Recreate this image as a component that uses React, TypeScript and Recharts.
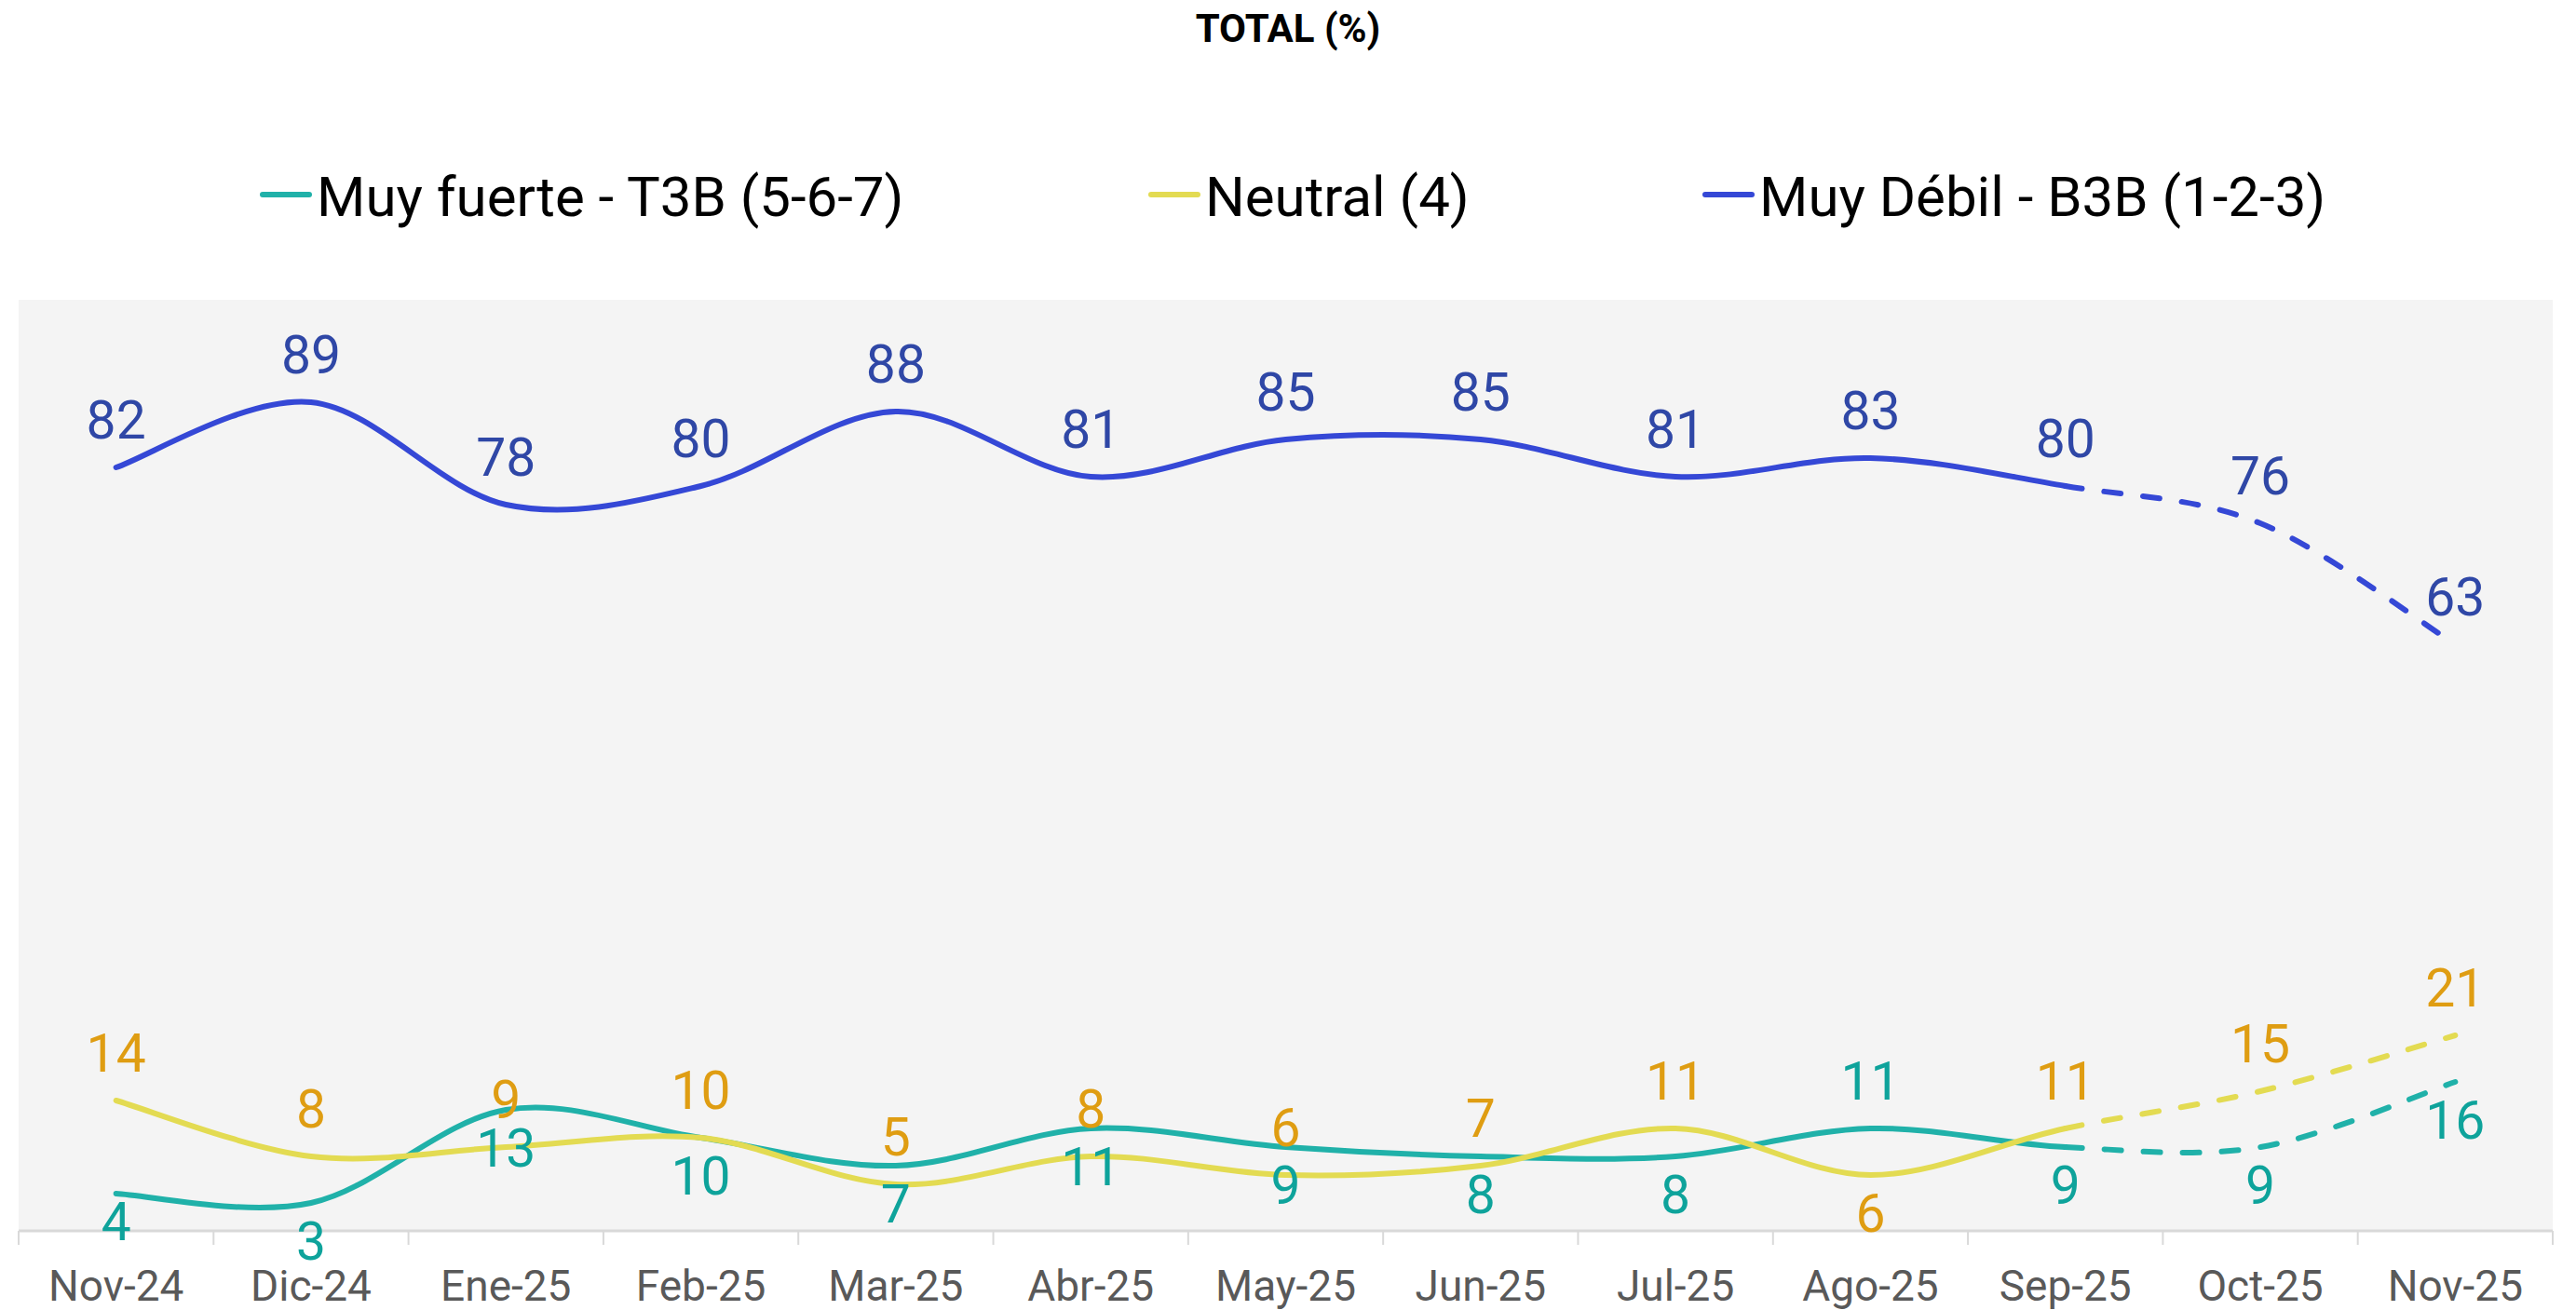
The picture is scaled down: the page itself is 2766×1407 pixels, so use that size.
import React from 'react';
import { LineChart, Line, XAxis, YAxis, CartesianGrid, LabelList } from 'recharts';

const meses = ['Nov-24', 'Dic-24', 'Ene-25', 'Feb-25', 'Mar-25', 'Abr-25', 'May-25', 'Jun-25', 'Jul-25', 'Ago-25', 'Sep-25', 'Oct-25', 'Nov-25'];
const muyFuerte = [4, 3, 13, 10, 7, 11, 9, 8, 8, 11, 9, 9, 16];
const neutral = [14, 8, 9, 10, 5, 8, 6, 7, 11, 6, 11, 15, 21];
const muyDebil = [82, 89, 78, 80, 88, 81, 85, 85, 81, 83, 80, 76, 63];

// donde va cada etiqueta respecto al punto
const ladoFuerte = ['low', 'below', 'below', 'below', 'below', 'below', 'below', 'below', 'below', 'above', 'below', 'below', 'below'];
const ladoNeutral = ['above', 'above', 'above', 'above', 'above', 'above', 'above', 'above', 'above', 'below', 'above', 'above', 'above'];
const ladoDebil = meses.map(() => 'above');

const ULTIMO_REAL = 10; // Sep-25, lo que sigue va punteado

const datos = meses.map((mes, i) => ({
  mes,
  fuerte: muyFuerte[i],
  neutral: neutral[i],
  debil: muyDebil[i],
}));

const W = 2766;
const H = 1407;
const M = { top: 322, left: 20, right: 25 };
const EJE_Y = 1322;
const MEDIA_BANDA = (W - M.left - M.right) / meses.length / 2;
const FUENTE = 'Roboto, "Noto Sans", sans-serif';

const C = {
  fuerte: '#20b1a9',
  fuerteTxt: '#0ea39b',
  neutral: '#e3db52',
  neutralTxt: '#df9d12',
  debil: '#3548d6',
  debilTxt: '#2f47a6',
};

// suavizado tipo Excel (Catmull-Rom), dibujando solo los tramos [desde, hasta]
function tramo(desde: number, hasta: number) {
  return (ctx: any) => {
    let pts: number[][] = [];
    return {
      areaStart() {},
      areaEnd() {},
      lineStart() {
        pts = [];
      },
      point(x: number, y: number) {
        pts.push([+x, +y]);
      },
      lineEnd() {
        const fin = Math.min(hasta, pts.length - 1);
        if (desde >= fin) return;
        ctx.moveTo(pts[desde][0], pts[desde][1]);
        for (let i = desde; i < fin; i++) {
          const p0 = pts[Math.max(i - 1, 0)];
          const p1 = pts[i];
          const p2 = pts[i + 1];
          const p3 = pts[Math.min(i + 2, pts.length - 1)];
          ctx.bezierCurveTo(
            p1[0] + (p2[0] - p0[0]) / 6,
            p1[1] + (p2[1] - p0[1]) / 6,
            p2[0] - (p3[0] - p1[0]) / 6,
            p2[1] - (p3[1] - p1[1]) / 6,
            p2[0],
            p2[1]
          );
        }
      },
    };
  };
}

const desplaz: Record<string, number> = { above: -31, below: 61, low: 50 };

const etiqueta = (color: string, lados: string[]) => (props: any) => {
  const { x, y, value, index } = props;
  return (
    <text x={x} y={y + desplaz[lados[index]]} textAnchor="middle" fontSize={57} fill={color} fontFamily={FUENTE}>
      {value}
    </text>
  );
};

const TickMes = (props: any) => {
  const { x, payload, index } = props;
  return (
    <g>
      <line x1={x - MEDIA_BANDA} x2={x - MEDIA_BANDA} y1={EJE_Y} y2={EJE_Y + 15} stroke="#d9d9d9" strokeWidth={2} />
      {index === meses.length - 1 && (
        <line x1={x + MEDIA_BANDA} x2={x + MEDIA_BANDA} y1={EJE_Y} y2={EJE_Y + 15} stroke="#d9d9d9" strokeWidth={2} />
      )}
      <text x={x} y={EJE_Y + 75} textAnchor="middle" fontSize={46} fill="#595959" fontFamily={FUENTE}>
        {payload.value}
      </text>
    </g>
  );
};

const leyenda = [
  { nombre: 'Muy fuerte - T3B (5-6-7)', color: C.fuerte, x: 279 },
  { nombre: 'Neutral (4)', color: C.neutral, x: 1233 },
  { nombre: 'Muy Débil - B3B (1-2-3)', color: C.debil, x: 1828 },
];

export default function App() {
  const series = [
    { k: 'fuerte', color: C.fuerte, txt: C.fuerteTxt, lados: ladoFuerte },
    { k: 'neutral', color: C.neutral, txt: C.neutralTxt, lados: ladoNeutral },
    { k: 'debil', color: C.debil, txt: C.debilTxt, lados: ladoDebil },
  ];

  return (
    <div style={{ position: 'absolute', left: 0, top: 0, width: W, height: H, background: '#fff' }}>
      <LineChart width={W} height={H} data={datos} margin={{ top: M.top, left: M.left, right: M.right, bottom: 0 }}>
        <CartesianGrid horizontal={false} vertical={false} fill="#f4f4f4" />
        <XAxis
          dataKey="mes"
          height={H - EJE_Y}
          interval={0}
          padding={{ left: MEDIA_BANDA, right: MEDIA_BANDA }}
          axisLine={{ stroke: '#d9d9d9', strokeWidth: 3 }}
          tickLine={false}
          tick={<TickMes />}
        />
        <YAxis hide domain={[0, 100]} />
        {series.map((s) => (
          <Line
            key={s.k + '-real'}
            dataKey={s.k}
            type={tramo(0, ULTIMO_REAL) as any}
            stroke={s.color}
            strokeWidth={6}
            strokeLinecap="round"
            dot={false}
            activeDot={false}
            isAnimationActive={false}
          >
            <LabelList dataKey={s.k} content={etiqueta(s.txt, s.lados)} />
          </Line>
        ))}
        {series.map((s) => (
          <Line
            key={s.k + '-proy'}
            dataKey={s.k}
            type={tramo(ULTIMO_REAL, meses.length - 1) as any}
            stroke={s.color}
            strokeWidth={6}
            strokeLinecap="round"
            strokeDasharray="18 24"
            dot={false}
            activeDot={false}
            legendType="none"
            isAnimationActive={false}
          />
        ))}
      </LineChart>
      <svg width={W} height={300} style={{ position: 'absolute', left: 0, top: 0, pointerEvents: 'none' }}>
        <text x={W / 2} y={45} textAnchor="middle" fontSize={42} fontWeight="bold" fill="#000" fontFamily={FUENTE}>
          TOTAL (%)
        </text>
        {leyenda.map((l) => (
          <g key={l.nombre}>
            <line x1={l.x + 3} x2={l.x + 53} y1={209} y2={209} stroke={l.color} strokeWidth={6} strokeLinecap="round" />
            <text x={l.x + 61} y={232} fontSize={60} fill="#000" fontFamily={FUENTE}>
              {l.nombre}
            </text>
          </g>
        ))}
      </svg>
    </div>
  );
}
